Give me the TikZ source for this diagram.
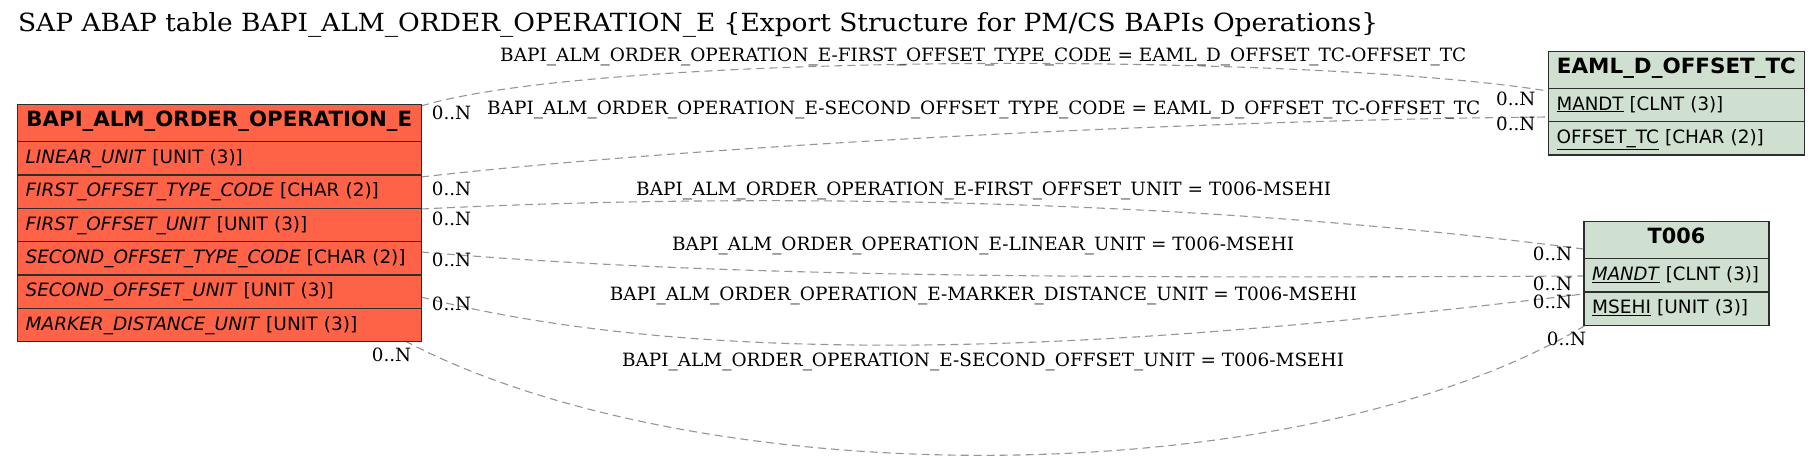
\documentclass[tikz,border=0pt]{standalone}
\usepackage{fontspec}
\usepackage{graphicx}
\setmainfont{DejaVu Serif}
\newfontfamily\tabfont{DejaVu Sans}
\newcommand\fitw[2]{\resizebox{#1pt}{\height}{#2}}
\newcommand\lblfont{\fontsize{18.3}{22}\selectfont}
\newcommand\ttlfont{\fontsize{25}{30}\selectfont}
\newcommand\rowfont{\tabfont\fontsize{18.4}{22}\selectfont}
\newcommand\headfont{\tabfont\bfseries\fontsize{21}{25}\selectfont}
\definecolor{tomatoF}{RGB}{255,99,71}
\definecolor{greyF}{RGB}{208,224,208}
\definecolor{edgeC}{RGB}{150,150,150}
\definecolor{borderC}{RGB}{45,45,45}
\tikzset{
  tbl/.style={draw=borderC, line width=1.2pt, anchor=north west, inner xsep=8.3pt, inner ysep=5pt, align=left, font=\rowfont},
  thead/.style={tbl, align=center, text height=17pt, text depth=10pt, font=\headfont},
  trow/.style={tbl, text height=16.7pt, text depth=6.6pt},
  lhead/.style={thead, fill=tomatoF, text width=387.4pt},
  lrow/.style={trow, fill=tomatoF, text width=387.4pt},
  ehead/.style={thead, fill=greyF, text width=239.7pt},
  erow/.style={trow, fill=greyF, text width=239.7pt},
  thd/.style={thead, fill=greyF, text width=168.4pt},
  trw/.style={trow, fill=greyF, text width=168.4pt},
  rel/.style={draw=edgeC, dashed, dash pattern=on 8pt off 5pt, line width=1.1pt},
  lbl/.style={anchor=base west, inner sep=0pt, font=\lblfont},
}
\begin{document}
\begin{tikzpicture}[x=1pt,y=-1pt]
\useasboundingbox (0,0) rectangle (1820,461);
\fill[white] (0,0) rectangle (1820,461);

\node[anchor=base west, inner sep=0pt, font=\ttlfont] (title) at (17.9,31.7)
  {\fitw{1360}{SAP ABAP table BAPI\_ALM\_ORDER\_OPERATION\_E \{Export Structure for PM/CS BAPIs Operations\}}};

% edges
\coordinate (s1) at (421,106);   \coordinate (t1) at (1547.7,91);
\coordinate (s2) at (421,177);   \coordinate (t2) at (1547.7,117);
\coordinate (s3) at (421,209);   \coordinate (t3) at (1583.3,249);
\coordinate (s4) at (421,252);   \coordinate (t4) at (1583.3,276);
\coordinate (s5) at (421,297);   \coordinate (t5) at (1583.3,294);
\coordinate (s6) at (405,341);   \coordinate (t6) at (1586,325);

\draw[rel] (s1) .. controls (600,52) and (1304,52) .. (t1);
\draw[rel] (s2) .. controls (700,145) and (1200,120) .. (t2);
\draw[rel] (s3) .. controls (700,195) and (1150,193) .. (t3);
\draw[rel] (s4) .. controls (700,275) and (1000,279) .. (t4);
\draw[rel] (s5) .. controls (750,380) and (1200,340) .. (t5);
\draw[rel] (s6) .. controls (700,496) and (1300,496) .. (t6);

% left table
\node[lhead] (Lh) at (16.7,104) {\fitw{385.7}{BAPI\_ALM\_ORDER\_OPERATION\_E}};
\node[lrow] (L1) at (16.7,141) {\fitw{217.3}{\textit{LINEAR\_UNIT} [UNIT (3)]}};
\node[lrow] (L2) at (16.7,174.3) {\fitw{353.3}{\textit{FIRST\_OFFSET\_TYPE\_CODE} [CHAR (2)]}};
\node[lrow] (L3) at (16.7,207.7) {\fitw{281.7}{\textit{FIRST\_OFFSET\_UNIT} [UNIT (3)]}};
\node[lrow] (L4) at (16.7,241) {\fitw{380}{\textit{SECOND\_OFFSET\_TYPE\_CODE} [CHAR (2)]}};
\node[lrow] (L5) at (16.7,274.3) {\fitw{308.3}{\textit{SECOND\_OFFSET\_UNIT} [UNIT (3)]}};
\node[lrow] (L6) at (16.7,307.7) {\fitw{331.7}{\textit{MARKER\_DISTANCE\_UNIT} [UNIT (3)]}};

% EAML_D_OFFSET_TC
\node[ehead] (Eh) at (1547.7,50.7) {\fitw{239}{EAML\_D\_OFFSET\_TC}};
\node[erow] (E1) at (1547.7,87.7) {\fitw{166.7}{\underline{MANDT} [CLNT (3)]}};
\node[erow] (E2) at (1547.7,121) {\fitw{207.3}{\underline{OFFSET\_TC} [CHAR (2)]}};

% T006
\node[thd] (Th) at (1583.3,221) {\fitw{57.6}{T006}};
\node[trw] (T1) at (1583.3,258) {\fitw{166.7}{\underline{\textit{MANDT}} [CLNT (3)]}};
\node[trw] (T2) at (1583.3,291.3) {\fitw{156}{\underline{MSEHI} [UNIT (3)]}};

% relation labels
\node[lbl] (r1) at (500,61.7) {\fitw{966}{BAPI\_ALM\_ORDER\_OPERATION\_E-FIRST\_OFFSET\_TYPE\_CODE = EAML\_D\_OFFSET\_TC-OFFSET\_TC}};
\node[lbl] (r2) at (487,114.5) {\fitw{993}{BAPI\_ALM\_ORDER\_OPERATION\_E-SECOND\_OFFSET\_TYPE\_CODE = EAML\_D\_OFFSET\_TC-OFFSET\_TC}};
\node[lbl] (r3) at (636,195) {\fitw{695}{BAPI\_ALM\_ORDER\_OPERATION\_E-FIRST\_OFFSET\_UNIT = T006-MSEHI}};
\node[lbl] (r4) at (672,250.7) {\fitw{622}{BAPI\_ALM\_ORDER\_OPERATION\_E-LINEAR\_UNIT = T006-MSEHI}};
\node[lbl] (r5) at (609.7,300) {\fitw{747}{BAPI\_ALM\_ORDER\_OPERATION\_E-MARKER\_DISTANCE\_UNIT = T006-MSEHI}};
\node[lbl] (r6) at (621.8,366.7) {\fitw{722}{BAPI\_ALM\_ORDER\_OPERATION\_E-SECOND\_OFFSET\_UNIT = T006-MSEHI}};

% cardinalities
\node[lbl] (c1a) at (431.7,119.3) {0..N};
\node[lbl] (c2a) at (431.7,195) {0..N};
\node[lbl] (c3a) at (431.7,225) {0..N};
\node[lbl] (c4a) at (431.7,266.7) {0..N};
\node[lbl] (c5a) at (431.7,310) {0..N};
\node[lbl] (c6a) at (371.7,361.7) {0..N};
\node[lbl] (c1b) at (1496,105) {0..N};
\node[lbl] (c2b) at (1496,130) {0..N};
\node[lbl] (c3b) at (1532.7,260.7) {0..N};
\node[lbl] (c4b) at (1532.7,290.7) {0..N};
\node[lbl] (c5b) at (1532.7,308.3) {0..N};
\node[lbl] (c6b) at (1546.7,345.7) {0..N};
\end{tikzpicture}
\end{document}
